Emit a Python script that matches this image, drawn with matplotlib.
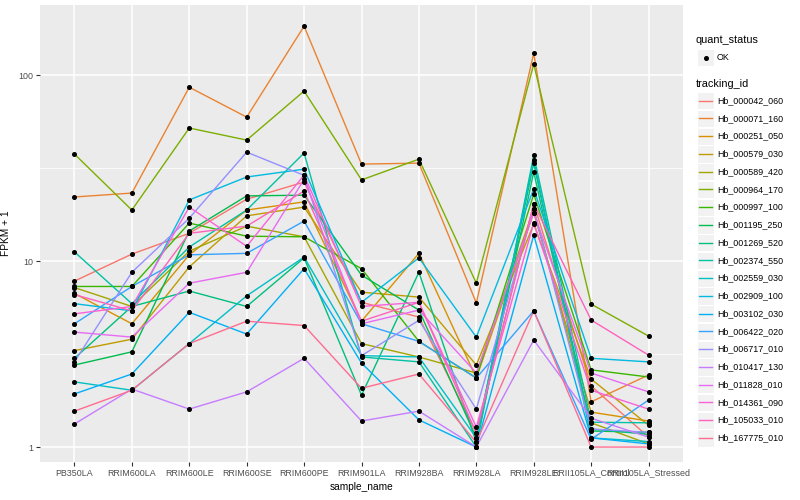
import numpy as np
import matplotlib
matplotlib.use("Agg")
import matplotlib.pyplot as plt
from matplotlib.patches import Rectangle
from matplotlib.lines import Line2D

plt.rcParams['font.family'] = ['Liberation Sans', 'DejaVu Sans']

samples = ["PB350LA", "RRIM600LA", "RRIM600LE", "RRIM600SE", "RRIM600PE",
           "RRIM901LA", "RRIM928BA", "RRIM928LA", "RRIM928LE",
           "RRII105LA_Control", "RRII105LA_Stressed"]

tracking_ids = ["Hb_000042_060", "Hb_000071_160", "Hb_000251_050", "Hb_000579_030",
                "Hb_000589_420", "Hb_000964_170", "Hb_000997_100", "Hb_001195_250",
                "Hb_001269_520", "Hb_002374_550", "Hb_002559_030", "Hb_002909_100",
                "Hb_003102_030", "Hb_006422_020", "Hb_006717_010", "Hb_010417_130",
                "Hb_011828_010", "Hb_014361_090", "Hb_105033_010", "Hb_167775_010"]

# ggplot hue palette, 20 levels
colors = ["#F8766D", "#EA8331", "#D89000", "#C09B00", "#A3A500", "#7CAE00",
          "#39B600", "#00BB4E", "#00BF7D", "#00C1A3", "#00BFC4", "#00BAE0",
          "#00B0F6", "#35A2FF", "#9590FF", "#C77CFF", "#E76BF3", "#FA62DB",
          "#FF62BC", "#FF6C91"]

# FPKM + 1, one row per tracking_id, one column per sample
fpkm = [
    [7.8, 10.9, 14.1, 21.5, 26.6, 6.0, 5.0, 1.19, 20.3, 2.13, 1.13],
    [22.1, 23.2, 86.0, 59.4, 183.0, 33.2, 33.6, 5.95, 131.0, 1.75, 2.44],
    [6.7, 4.6, 10.8, 18.8, 20.8, 4.75, 11.0, 2.35, 18.2, 1.54, 1.38],
    [3.3, 3.8, 9.3, 17.5, 19.5, 6.8, 6.4, 2.76, 15.8, 2.32, 1.31],
    [7.2, 5.7, 11.3, 15.4, 13.5, 3.6, 3.05, 2.5, 19.0, 1.35, 1.04],
    [37.6, 18.8, 51.9, 44.7, 82.0, 27.3, 35.3, 7.6, 114.6, 5.87, 3.95],
    [7.3, 7.3, 16.0, 13.6, 13.5, 9.1, 3.7, 2.35, 22.9, 2.6, 2.38],
    [2.76, 3.25, 14.5, 22.4, 22.6, 8.4, 5.45, 1.12, 33.6, 1.22, 1.2],
    [3.0, 5.7, 6.9, 5.7, 10.4, 1.9, 8.7, 1.06, 30.1, 1.25, 1.17],
    [11.2, 5.9, 11.9, 18.8, 38.1, 3.05, 2.87, 1.0, 37.1, 1.36, 1.35],
    [2.24, 2.02, 3.6, 6.5, 10.5, 3.1, 3.05, 1.12, 35.0, 1.12, 1.07],
    [5.9, 5.4, 21.3, 28.3, 31.2, 6.0, 10.4, 3.9, 24.4, 3.0, 2.87],
    [1.93, 2.47, 5.3, 4.05, 9.1, 2.83, 1.4, 1.0, 13.8, 1.12, 1.04],
    [4.6, 7.3, 10.8, 11.0, 16.4, 4.6, 3.7, 2.35, 5.4, 1.1, 1.79],
    [2.87, 8.7, 17.0, 38.5, 28.9, 3.1, 4.8, 1.6, 19.0, 1.25, 1.2],
    [1.33, 2.05, 1.6, 1.98, 3.0, 1.38, 1.56, 1.0, 3.76, 1.43, 1.13],
    [4.15, 3.9, 7.6, 8.7, 27.5, 4.6, 5.45, 2.5, 18.2, 2.5, 1.98],
    [5.2, 5.7, 19.5, 12.0, 29.0, 5.7, 6.0, 1.28, 16.0, 2.02, 1.6],
    [6.6, 5.4, 14.1, 15.4, 23.8, 4.75, 6.0, 1.19, 20.3, 4.82, 3.12],
    [1.56, 2.02, 3.6, 4.75, 4.5, 2.07, 2.47, 1.06, 5.4, 1.0, 1.0],
]

fig = plt.figure(figsize=(8, 5), dpi=100)
ax = fig.add_axes([40/800, 38/500, 643/800, 457/500])
ax.set_facecolor("#EBEBEB")

x = np.arange(len(samples))
for vals, col in zip(fpkm, colors):
    ax.plot(x, vals, color=col, lw=1.0, zorder=2)
for vals in fpkm:
    ax.plot(x, vals, ls="none", marker="o", ms=2.6, color="black", zorder=3)

ax.set_yscale("log")
ax.set_ylim(0.831, 238)
ax.set_xlim(-0.6, len(samples) - 0.4)
ax.set_yticks([1, 10, 100])
ax.set_yticklabels(["1", "10", "100"])
ax.yaxis.set_minor_locator(matplotlib.ticker.NullLocator())
for m in [10**0.5, 10**1.5]:
    ax.axhline(m, color="white", lw=0.55, zorder=1)
ax.set_xticks(x)
ax.set_xticklabels(samples)
ax.grid(True, which="major", color="white", lw=1.1, zorder=1)
ax.set_axisbelow(True)
for s in ax.spines.values():
    s.set_visible(False)
ax.tick_params(axis="both", length=2.8, width=0.8, color="#333333",
               labelsize=6.4, labelcolor="#4D4D4D", pad=2)
ax.set_xlabel("sample_name", fontsize=7.3, labelpad=3)
ax.set_ylabel("FPKM + 1", fontsize=7.3, labelpad=5)

# legends drawn by hand in ggplot style
W, H = 800, 500
def fx(px):
    return px / W
def fy(py):
    return 1 - py / H

fig.text(fx(696), fy(40), "quant_status", fontsize=7.8, va="center", ha="left")
fig.add_artist(Rectangle((fx(697), fy(66)), 17/W, 17/H, transform=fig.transFigure,
                         facecolor="#F2F2F2", edgecolor="white", lw=0.8))
fig.add_artist(Line2D([fx(705.5)], [fy(57.5)], marker="o", ms=2.6, color="black",
                      transform=fig.transFigure))
fig.text(fx(717), fy(57.5), "OK", fontsize=6.4, va="center", ha="left")

fig.text(fx(696), fy(84), "tracking_id", fontsize=7.8, va="center", ha="left")
for i, (tid, col) in enumerate(zip(tracking_ids, colors)):
    yc = 100.7 + i * 17.75
    fig.add_artist(Rectangle((fx(697), fy(yc + 8.6)), 17/W, 17.3/H,
                             transform=fig.transFigure, facecolor="#F2F2F2",
                             edgecolor="white", lw=0.8))
    fig.add_artist(Line2D([fx(699), fx(712)], [fy(yc), fy(yc)], color=col, lw=1.0,
                          transform=fig.transFigure))
    fig.text(fx(717), fy(yc), tid, fontsize=6.4, va="center", ha="left")

fig.savefig("out.png", dpi=100)
